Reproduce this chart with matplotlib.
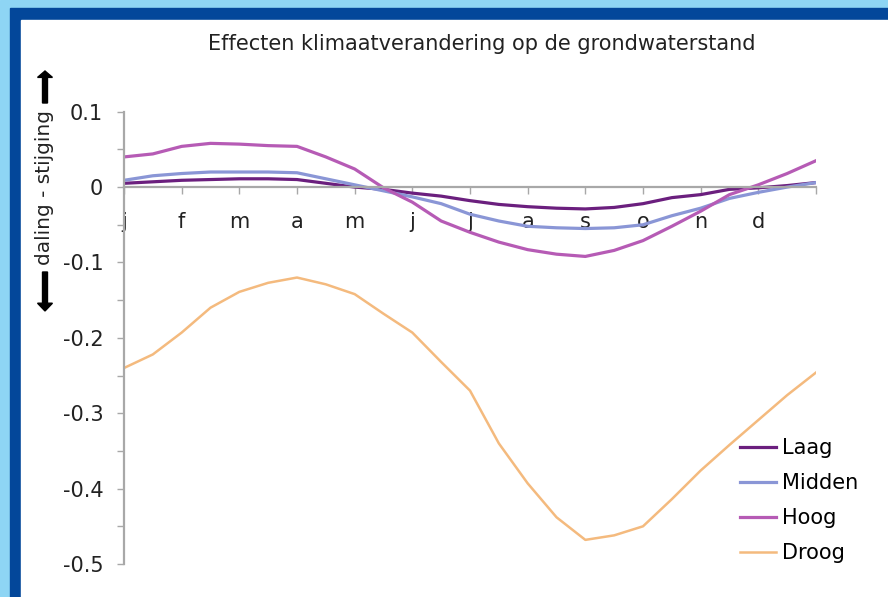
import matplotlib.pyplot as plt
from matplotlib.patches import Rectangle

# maanden als positie 0..12 (begin van elke maand), halve-maand stappen
maand = [0, 0.5, 1, 1.5, 2, 2.5, 3, 3.5, 4, 4.5, 5, 5.5, 6,
         6.5, 7, 7.5, 8, 8.5, 9, 9.5, 10, 10.5, 11, 11.5, 12]
laag = [0.005, 0.007, 0.009, 0.010, 0.011, 0.011, 0.010, 0.005, 0.000, -0.003,
        -0.008, -0.012, -0.018, -0.023, -0.026, -0.028, -0.029, -0.027, -0.022,
        -0.014, -0.010, -0.003, -0.001, 0.002, 0.006]
midden = [0.009, 0.015, 0.018, 0.020, 0.020, 0.020, 0.019, 0.011, 0.003, -0.005,
          -0.013, -0.022, -0.036, -0.045, -0.052, -0.054, -0.055, -0.054, -0.050,
          -0.038, -0.028, -0.015, -0.007, 0.000, 0.006]
hoog = [0.040, 0.044, 0.054, 0.058, 0.057, 0.055, 0.054, 0.040, 0.024, -0.001,
        -0.020, -0.045, -0.060, -0.073, -0.083, -0.089, -0.092, -0.084, -0.071,
        -0.052, -0.032, -0.010, 0.003, 0.018, 0.035]
droog = [-0.240, -0.222, -0.193, -0.160, -0.139, -0.127, -0.120, -0.129, -0.142,
         -0.168, -0.193, -0.232, -0.270, -0.340, -0.393, -0.438, -0.468, -0.462,
         -0.450, -0.414, -0.376, -0.342, -0.309, -0.276, -0.246]
maand_labels = ["j", "f", "m", "a", "m", "j", "j", "a", "s", "o", "n", "d", ""]

fig = plt.figure(figsize=(8.88, 5.97), dpi=100, facecolor="white")

# rand van de pagina
fig.patches.append(Rectangle((0, 0), 1, 1, transform=fig.transFigure,
                             color="#8ed5f4", zorder=-3))
fig.patches.append(Rectangle((10 / 888, 0), 1, 1 - 8 / 597, transform=fig.transFigure,
                             color="#03479a", zorder=-2))
fig.patches.append(Rectangle((21 / 888, 0), 1, 1 - 20 / 597, transform=fig.transFigure,
                             color="white", zorder=-1))

ax = fig.add_axes([124 / 888, 1 - 564 / 597, 692 / 888, 452.3 / 597])
ax.patch.set_alpha(0)

ax.plot(maand, laag, color="#6b1f7e", lw=2.3, label="Laag")
ax.plot(maand, midden, color="#8a96d6", lw=2.3, label="Midden")
ax.plot(maand, hoog, color="#b65bb5", lw=2.3, label="Hoog")
ax.plot(maand, droog, color="#f4ba7e", lw=1.8, label="Droog")

ax.set_xlim(0, 12)
ax.set_ylim(-0.5, 0.1)
for s in ["top", "right"]:
    ax.spines[s].set_visible(False)
ax.spines["bottom"].set_position(("data", 0))
for s in ["left", "bottom"]:
    ax.spines[s].set_color("#a8a8a8")
    ax.spines[s].set_linewidth(1.6)

ax.set_xticks(range(13))
ax.set_xticklabels(maand_labels)
ax.set_yticks([0.1, 0, -0.1, -0.2, -0.3, -0.4, -0.5])
ax.set_yticklabels(["0.1", "0", "-0.1", "-0.2", "-0.3", "-0.4", "-0.5"])
ax.set_yticks([0.05, -0.05, -0.15, -0.25, -0.35, -0.45], minor=True)
ax.tick_params(axis="x", direction="out", length=5, width=1, color="#a8a8a8",
               labelsize=15, pad=13, labelcolor="#222222")
ax.tick_params(axis="y", which="both", direction="out", length=5, width=1,
               color="#a8a8a8", labelsize=15, pad=10, labelcolor="#222222")

fig.text(482 / 888, 1 - 44 / 597, "Effecten klimaatverandering op de grondwaterstand",
         ha="center", va="center", fontsize=15, color="#222222")

fig.text(45 / 888, 1 - 187 / 597, "daling - stijging", rotation=90,
         ha="center", va="center", fontsize=14.5, color="#222222")
fig.patches.append(plt.Arrow(45 / 888, 1 - 103 / 597, 0, 32 / 597, width=0.028,
                             transform=fig.transFigure, color="black"))
fig.patches.append(plt.Arrow(45 / 888, 1 - 272 / 597, 0, -39 / 597, width=0.028,
                             transform=fig.transFigure, color="black"))

ax.legend(loc="upper left", bbox_to_anchor=(740 / 888, 1 - 438 / 597),
          bbox_transform=fig.transFigure, frameon=False, fontsize=15,
          handlelength=1.75, handletextpad=0.25, labelspacing=0.72,
          borderaxespad=0, borderpad=0)

fig.savefig("out.png", dpi=100, facecolor=fig.get_facecolor())
